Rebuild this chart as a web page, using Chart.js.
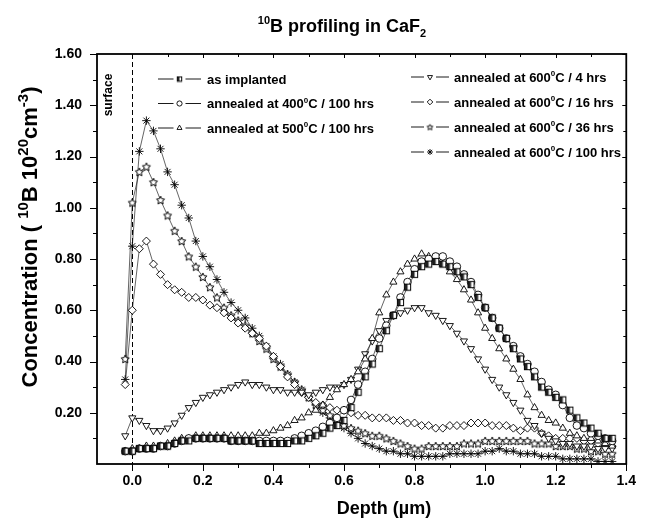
<!DOCTYPE html>
<html>
<head>
<meta charset="utf-8">
<script src="https://cdn.jsdelivr.net/npm/chart.js@4.4.1/dist/chart.umd.min.js"></script>
<style>
  html, body { margin: 0; padding: 0; background: #fff; }
  #chart { display: block; }
</style>
</head>
<body>
<canvas id="chart" width="645" height="521"></canvas>
<script>
// depth grid (um) and concentrations (1e20 cm^-3)
const depth = [
  -0.02, 0.00, 0.02, 0.04, 0.06, 0.08, 0.10, 0.12, 0.14, 0.16,
  0.18, 0.20, 0.22, 0.24, 0.26, 0.28, 0.30, 0.32, 0.34, 0.36,
  0.38, 0.40, 0.42, 0.44, 0.46, 0.48, 0.50, 0.52, 0.54, 0.56,
  0.58, 0.60, 0.62, 0.64, 0.66, 0.68, 0.70, 0.72, 0.74, 0.76,
  0.78, 0.80, 0.82, 0.84, 0.86, 0.88, 0.90, 0.92, 0.94, 0.96,
  0.98, 1.00, 1.02, 1.04, 1.06, 1.08, 1.10, 1.12, 1.14, 1.16,
  1.18, 1.20, 1.22, 1.24, 1.26, 1.28, 1.30, 1.32, 1.34, 1.36
];

const asImplanted = [
  0.05, 0.05, 0.06, 0.06, 0.06, 0.07, 0.07, 0.08, 0.09, 0.09,
  0.10, 0.10, 0.10, 0.10, 0.10, 0.09, 0.09, 0.09, 0.09, 0.08,
  0.08, 0.08, 0.08, 0.08, 0.09, 0.09, 0.10, 0.11, 0.12, 0.14,
  0.15, 0.17, 0.22, 0.28, 0.34, 0.39, 0.45, 0.52, 0.58, 0.63,
  0.69, 0.74, 0.77, 0.78, 0.79, 0.78, 0.77, 0.75, 0.73, 0.70,
  0.65, 0.61, 0.57, 0.53, 0.49, 0.45, 0.41, 0.38, 0.34, 0.30,
  0.28, 0.26, 0.25, 0.21, 0.18, 0.16, 0.14, 0.12, 0.10, 0.10
];

const annealed400 = [
  0.05, 0.05, 0.06, 0.06, 0.06, 0.07, 0.07, 0.08, 0.09, 0.10,
  0.10, 0.10, 0.10, 0.10, 0.10, 0.09, 0.09, 0.09, 0.09, 0.09,
  0.09, 0.09, 0.09, 0.09, 0.10, 0.11, 0.12, 0.13, 0.145, 0.16,
  0.18, 0.21, 0.25, 0.31, 0.36, 0.41, 0.49, 0.54, 0.58, 0.65,
  0.71, 0.76, 0.79, 0.80, 0.81, 0.81, 0.79, 0.77, 0.74, 0.71,
  0.66, 0.61, 0.57, 0.53, 0.49, 0.46, 0.42, 0.39, 0.36, 0.32,
  0.29, 0.27, 0.23, 0.18, 0.15, 0.14, 0.12, 0.11, 0.10, 0.09
];

const annealed500 = [
  0.05, 0.06, 0.06, 0.07, 0.07, 0.07, 0.08, 0.09, 0.10, 0.10,
  0.11, 0.11, 0.11, 0.11, 0.11, 0.11, 0.11, 0.11, 0.11, 0.12,
  0.12, 0.13, 0.14, 0.15, 0.17, 0.18, 0.20, 0.21, 0.23, 0.26,
  0.29, 0.31, 0.33, 0.36, 0.41, 0.49, 0.59, 0.66, 0.71, 0.75,
  0.78, 0.80, 0.82, 0.81, 0.80, 0.78, 0.75, 0.72, 0.68, 0.64,
  0.59, 0.53, 0.49, 0.45, 0.41, 0.37, 0.33, 0.27, 0.22, 0.19,
  0.17, 0.16, 0.14, 0.12, 0.11, 0.10, 0.10, 0.09, 0.08, 0.07
];

const annealed600h4 = [
  0.11, 0.18, 0.17, 0.15, 0.13, 0.13, 0.14, 0.16, 0.19, 0.22,
  0.24, 0.26, 0.27, 0.28, 0.29, 0.30, 0.31, 0.32, 0.31, 0.31,
  0.30, 0.29, 0.29, 0.28, 0.28, 0.28, 0.27, 0.28, 0.29, 0.30,
  0.30, 0.31, 0.33, 0.37, 0.43, 0.48, 0.52, 0.56, 0.58, 0.59,
  0.60, 0.61, 0.61, 0.59, 0.58, 0.56, 0.54, 0.51, 0.48, 0.45,
  0.41, 0.37, 0.33, 0.30, 0.27, 0.24, 0.21, 0.17, 0.15, 0.12,
  0.10, 0.09, 0.08, 0.08, 0.07, 0.07, 0.07, 0.06, 0.06, 0.06
];

const annealed600h16 = [
  0.31, 0.60, 0.84, 0.87, 0.78, 0.74, 0.70, 0.68, 0.67, 0.65,
  0.65, 0.64, 0.62, 0.61, 0.59, 0.57, 0.55, 0.53, 0.51, 0.49,
  0.46, 0.42, 0.38, 0.34, 0.31, 0.28, 0.26, 0.24, 0.23, 0.22,
  0.21, 0.21, 0.20, 0.19, 0.19, 0.18, 0.18, 0.18, 0.17, 0.17,
  0.16, 0.16, 0.15, 0.15, 0.14, 0.14, 0.15, 0.15, 0.15, 0.16,
  0.16, 0.16, 0.15, 0.15, 0.15, 0.14, 0.13, 0.14, 0.14, 0.12,
  0.11, 0.10, 0.10, 0.10, 0.10, 0.09, 0.09, 0.08, 0.07, 0.07
];

const annealed600h36 = [
  0.41, 1.02, 1.14, 1.16, 1.10, 1.03, 0.97, 0.91, 0.87, 0.81,
  0.77, 0.73, 0.69, 0.65, 0.61, 0.58, 0.56, 0.54, 0.51, 0.48,
  0.45, 0.41, 0.38, 0.35, 0.32, 0.29, 0.26, 0.23, 0.21, 0.19,
  0.17, 0.15, 0.14, 0.13, 0.12, 0.11, 0.11, 0.10, 0.09, 0.08,
  0.07, 0.06, 0.06, 0.07, 0.07, 0.07, 0.07, 0.07, 0.08, 0.08,
  0.08, 0.09, 0.09, 0.09, 0.09, 0.09, 0.09, 0.09, 0.08, 0.08,
  0.08, 0.07, 0.07, 0.07, 0.06, 0.06, 0.05, 0.05, 0.04, 0.04
];

const annealed600h100 = [
  0.33, 0.85, 1.22, 1.34, 1.30, 1.23, 1.14, 1.09, 1.01, 0.96,
  0.87, 0.81, 0.77, 0.72, 0.67, 0.63, 0.60, 0.57, 0.53, 0.50,
  0.46, 0.42, 0.39, 0.35, 0.32, 0.29, 0.26, 0.23, 0.20, 0.18,
  0.16, 0.14, 0.12, 0.10, 0.08, 0.07, 0.06, 0.05, 0.05, 0.04,
  0.04, 0.03, 0.03, 0.03, 0.03, 0.03, 0.04, 0.04, 0.04, 0.04,
  0.04, 0.05, 0.05, 0.06, 0.05, 0.05, 0.04, 0.04, 0.04, 0.03,
  0.03, 0.03, 0.02, 0.02, 0.02, 0.02, 0.02, 0.01, 0.01, 0.01
];

const seriesNames = [
  'as implanted',
  'annealed at 400°C / 100 hrs',
  'annealed at 500°C / 100 hrs',
  'annealed at 600°C / 4 hrs',
  'annealed at 600°C / 16 hrs',
  'annealed at 600°C / 36 hrs',
  'annealed at 600°C / 100 hrs'
];
const seriesValues = [asImplanted, annealed400, annealed500, annealed600h4,
  annealed600h16, annealed600h36, annealed600h100];

const xTicks = [0.0, 0.2, 0.4, 0.6, 0.8, 1.0, 1.2, 1.4];
const yTicks = [0.2, 0.4, 0.6, 0.8, 1.0, 1.2, 1.4, 1.6];

const FONT = '"Liberation Sans", Arial, Helvetica, sans-serif';

// ---- custom symbols ----
function makeHalfSquare(r) {
  const s = Math.ceil(r * 2) + 2;
  const c = document.createElement('canvas');
  c.width = c.height = s;
  const g = c.getContext('2d');
  const o = (s - r * 2) / 2;
  g.fillStyle = '#fff';
  g.fillRect(o, o, r * 2, r * 2);
  g.fillStyle = '#222';
  g.fillRect(o, o, r, r * 2);
  g.strokeStyle = '#000';
  g.lineWidth = 1;
  g.strokeRect(o, o, r * 2, r * 2);
  return c;
}

function makeStar(r) {
  const s = Math.ceil(r * 2) + 3;
  const c = document.createElement('canvas');
  c.width = c.height = s;
  const g = c.getContext('2d');
  g.translate(s / 2, s / 2 + 0.4);
  g.beginPath();
  for (let i = 0; i < 10; i++) {
    const rr = i % 2 ? r * 0.48 : r;
    const a = -Math.PI / 2 + i * Math.PI / 5;
    g.lineTo(rr * Math.cos(a), rr * Math.sin(a));
  }
  g.closePath();
  g.fillStyle = '#fff';
  g.fill();
  g.strokeStyle = '#000';
  g.lineWidth = 1;
  g.stroke();
  return c;
}

function symbolFor(i, small) {
  const r = small ? 2.6 : 3.8;
  switch (i) {
    case 0: return { pointStyle: makeHalfSquare(small ? 2.2 : 3.1), rotation: 0, radius: r };
    case 1: return { pointStyle: 'circle', rotation: 0, radius: r };
    case 2: return { pointStyle: 'triangle', rotation: 0, radius: r + 0.3 };
    case 3: return { pointStyle: 'triangle', rotation: 180, radius: r + 0.3 };
    case 4: return { pointStyle: 'rectRot', rotation: 0, radius: r + 0.2 };
    case 5: return { pointStyle: makeStar(small ? 3 : 4.3), rotation: 0, radius: r };
    default: return { pointStyle: 'star', rotation: 0, radius: r + 0.4 };
  }
}

const datasets = seriesValues.map((vals, i) => {
  const sym = symbolFor(i, false);
  return {
    label: seriesNames[i],
    data: depth.map((d, k) => ({ x: d, y: vals[k] })),
    showLine: true,
    borderColor: '#222',
    borderWidth: 0.7,
    pointStyle: sym.pointStyle,
    rotation: sym.rotation,
    pointRadius: sym.radius,
    pointBackgroundColor: '#fff',
    pointBorderColor: '#000',
    pointBorderWidth: 0.9
  };
});

// text with superscripts / subscripts
function richWidth(ctx, parts, size, ratio) {
  let w = 0;
  parts.forEach(([t, k]) => {
    ctx.font = `bold ${k === 'n' ? size : Math.round(size * ratio)}px ${FONT}`;
    w += ctx.measureText(t).width;
  });
  return w;
}

function drawRich(ctx, parts, x, y, size, align, ratio = 0.62) {
  let cx = align === 'center' ? x - richWidth(ctx, parts, size, ratio) / 2 : x;
  ctx.textBaseline = 'alphabetic';
  ctx.textAlign = 'left';
  parts.forEach(([t, k]) => {
    const s = k === 'n' ? size : Math.round(size * ratio);
    ctx.font = `bold ${s}px ${FONT}`;
    const dy = k === 'sup' ? -size * 0.42 : k === 'sub' ? size * 0.25 : 0;
    ctx.fillText(t, cx, y + dy);
    cx += ctx.measureText(t).width;
  });
}

function nameParts(name) {
  const bits = name.split('°');
  const parts = [[bits[0], 'n']];
  if (bits.length > 1) {
    parts.push(['0', 'sup']);
    parts.push([bits[1], 'n']);
  }
  return parts;
}

const decor = {
  id: 'decor',
  beforeDatasetsDraw(chart) {
    const { ctx, chartArea: a, scales: { x } } = chart;
    ctx.save();
    ctx.strokeStyle = '#000';
    ctx.lineWidth = 1;
    ctx.setLineDash([5, 3]);
    const x0 = Math.round(x.getPixelForValue(0)) + 0.5;
    ctx.beginPath();
    ctx.moveTo(x0, a.top);
    ctx.lineTo(x0, a.bottom);
    ctx.stroke();
    ctx.setLineDash([]);
    // "surface" tag
    ctx.translate(a.left + 12, a.top + 41);
    ctx.rotate(-Math.PI / 2);
    ctx.fillStyle = '#000';
    ctx.font = `bold 12px ${FONT}`;
    ctx.textAlign = 'center';
    ctx.textBaseline = 'middle';
    ctx.fillText('surface', 0, 0);
    ctx.restore();
  },
  afterDatasetsDraw(chart) {
    const { ctx } = chart;
    ctx.save();
    seriesNames.forEach((name, i) => {
      const left = i < 3;
      const row = left ? i : i - 3;
      const yy = left ? 79 + row * 24.5 : 77 + row * 25;
      const x1 = left ? 158 : 411;
      const x2 = left ? 201 : 449;
      const xs = left ? 179.5 : 430;
      const xt = left ? 207 : 454;
      ctx.strokeStyle = '#000';
      ctx.lineWidth = 0.9;
      ctx.beginPath();
      ctx.moveTo(x1, yy);
      ctx.lineTo(xs - 6, yy);
      ctx.moveTo(xs + 6, yy);
      ctx.lineTo(x2, yy);
      ctx.stroke();
      const sym = symbolFor(i, true);
      ctx.fillStyle = '#fff';
      ctx.strokeStyle = '#000';
      ctx.lineWidth = 0.9;
      Chart.helpers.drawPoint(ctx, { pointStyle: sym.pointStyle, rotation: sym.rotation,
        radius: sym.radius, borderWidth: 0.9 }, xs, yy);
      ctx.fillStyle = '#000';
      drawRich(ctx, nameParts(name), xt, yy + 4.6, 13, 'left');
    });
    ctx.restore();
  },
  afterDraw(chart) {
    const { ctx, chartArea: a, scales: { x, y } } = chart;
    ctx.save();
    ctx.strokeStyle = '#000';
    ctx.lineWidth = 1;
    const seg = (x1, y1, x2, y2) => {
      ctx.beginPath(); ctx.moveTo(x1, y1); ctx.lineTo(x2, y2); ctx.stroke();
    };
    for (let k = 0; k <= 14; k++) {
      const px = Math.round(x.getPixelForValue(k / 10)) + 0.5;
      const major = k % 2 === 0;
      seg(px, a.bottom, px, a.bottom + (major ? 7 : 4));
      seg(px, a.top, px, a.top + (major ? 4 : 3));
    }
    for (let k = 1; k <= 16; k++) {
      const py = Math.round(y.getPixelForValue(k / 10)) + 0.5;
      const major = k % 2 === 0;
      seg(a.left - (major ? 7 : 4), py, a.left, py);
      seg(a.right, py, a.right - (major ? 4 : 3), py);
    }
    ctx.lineWidth = 1.8;
    ctx.strokeRect(a.left, a.top, a.right - a.left, a.bottom - a.top);

    ctx.fillStyle = '#000';
    drawRich(ctx, [['10', 'sup'], ['B profiling in CaF', 'n'], ['2', 'sub']], 342, 32, 18, 'center');
    drawRich(ctx, [['Depth (µm)', 'n']], 384, 514, 18, 'center');
    ctx.translate(37, 237);
    ctx.rotate(-Math.PI / 2);
    drawRich(ctx, [['Concentration ( ', 'n'], ['10', 'sup'], ['B 10', 'n'], ['20', 'sup'],
      ['cm', 'n'], ['-3', 'sup'], [')', 'n']], 0, 0, 22, 'center', 0.66);
    ctx.restore();
  }
};

new Chart(document.getElementById('chart'), {
  type: 'scatter',
  data: { datasets },
  options: {
    responsive: false,
    animation: false,
    layout: { autoPadding: false, padding: { left: 0, right: 8, top: 54, bottom: 0 } },
    plugins: { legend: { display: false }, tooltip: { enabled: false }, title: { display: false } },
    scales: {
      x: {
        type: 'linear', min: -0.1, max: 1.4,
        grid: { display: false, drawTicks: false },
        border: { display: false },
        afterBuildTicks: s => { s.ticks = xTicks.map(v => ({ value: v })); },
        afterFit: s => { s.height = 57; },
        ticks: {
          autoSkip: false, maxRotation: 0, padding: 9, color: '#000',
          font: { family: FONT, size: 14, weight: 'bold' },
          callback: v => Number(v).toFixed(1)
        }
      },
      y: {
        type: 'linear', min: 0, max: 1.6,
        grid: { display: false, drawTicks: false },
        border: { display: false },
        afterBuildTicks: s => { s.ticks = yTicks.map(v => ({ value: v })); },
        afterFit: s => { s.width = 97; },
        ticks: {
          autoSkip: false, padding: 15, color: '#000',
          font: { family: FONT, size: 14, weight: 'bold' },
          callback: v => Number(v).toFixed(2)
        }
      }
    }
  },
  plugins: [decor]
});
</script>
</body>
</html>
